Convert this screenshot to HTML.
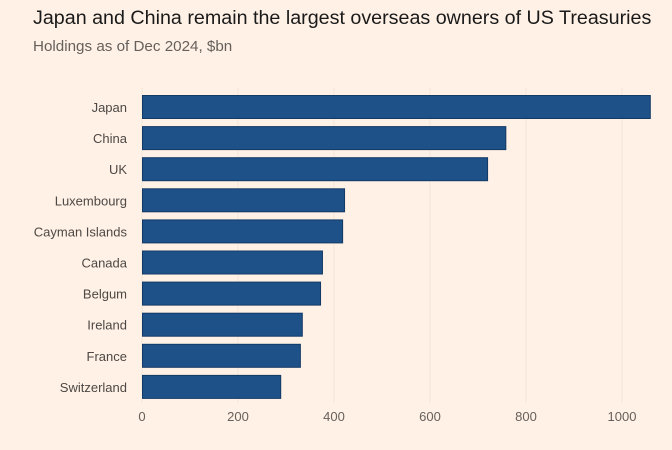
<!DOCTYPE html>
<html><head><meta charset="utf-8"><style>
body{margin:0;background:#fff1e5;font-family:"Liberation Sans",sans-serif;}
#wrap{position:relative;width:672px;height:450px;overflow:hidden;}
.t{position:absolute;left:33px;top:7px;font-size:19.7px;color:#1a1a1a;}
.s{position:absolute;left:33px;top:38px;font-size:15.2px;color:#66605c;}
</style></head><body>
<div id="wrap">
<div class="t">Japan and China remain the largest overseas owners of US Treasuries</div>
<div class="s">Holdings as of Dec 2024, $bn</div>
<svg id="svg" width="672" height="450" style="position:absolute;left:0;top:0"></svg>
</div>
<script>
const categories=["Japan","China","UK","Luxembourg","Cayman Islands","Canada","Belgum","Ireland","France","Switzerland"];
const values=[1060,759,721,423,419,377,373,335,331,290];
const ticks=[0,200,400,600,800,1000];
const svg=document.getElementById('svg');
const NS='http://www.w3.org/2000/svg';
const x=v=>142+v*0.48;
const y=i=>95+i*31.1;
function mk(t,a){const e=document.createElementNS(NS,t);for(const k in a)e.setAttribute(k,a[k]);svg.appendChild(e);return e;}
ticks.forEach(t=>{
 const g=mk('line',{x1:x(t),x2:x(t),y1:88,y2:403,stroke:'#f2e5da','stroke-width':1});
 
 
 const l=mk('text',{x:x(t),y:421,'text-anchor':'middle','font-size':13,fill:'#66605c','font-family':'Liberation Sans'});
 l.textContent=t;
 
 
});
categories.forEach((c,i)=>{
 const b=mk('rect',{x:x(0)+0.5,y:y(i)+0.5,width:x(values[i])-x(0)-1,height:23,fill:'#1f5189',stroke:'#123a66','stroke-width':1});
 
 
 const l=mk('text',{x:127,y:y(i)+17,'text-anchor':'end','font-size':13,fill:'#4d4845','font-family':'Liberation Sans'});
 l.textContent=c;
 
 
});
</script>
</body></html>
